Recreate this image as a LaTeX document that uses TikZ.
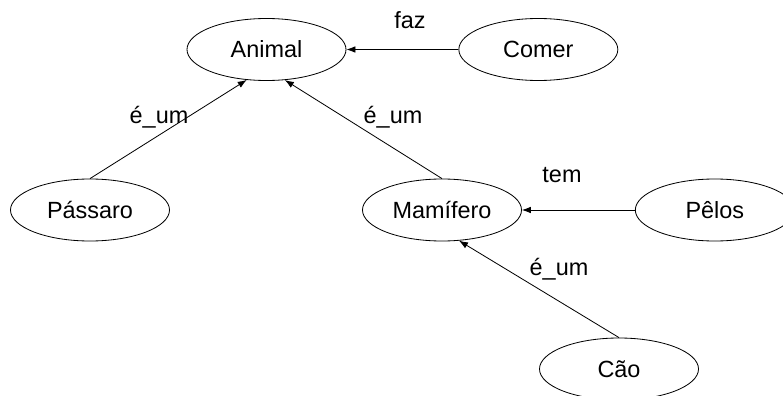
\documentclass[tikz,border=0pt]{standalone}
\usepackage{fontspec}
\setmainfont{Liberation Sans}
\usepackage{tikz}
\usetikzlibrary{arrows.meta, positioning, shapes.geometric}

\begin{document}
\begin{tikzpicture}[
  x=0.03cm, y=-0.03cm,
  concept/.style={draw, ellipse, line width=0.7pt, minimum width=4.77cm, minimum height=1.86cm, inner sep=0pt},
  rel/.style={inner sep=0pt},
  arrow/.style={-{Latex[length=2.7mm, width=2mm]}, line width=0.7pt},
  every node/.style={font=\fontsize{20}{24}\selectfont}
]
\useasboundingbox (0,0) rectangle (783,396);

% TOP ROW
\node[concept] (animal) at (266.5,49.5) {Animal};
\node[concept, right=3.36cm of animal] (comer) {Comer};

% MIDDLE ROW
\node[concept] (passaro) at (90,210) {Pássaro};
\node[concept] (mamifero) at (442,210) {Mamífero};
\node[concept, right=3.39cm of mamifero] (pelos) {Pêlos};

% BOTTOM
\node[concept] (cao) at (619,369) {Cão};

% LABELS
\node[rel] (faz) at (410,20) {faz};
\node[rel] (eum1) at (159,117) {é\_um};
\node[rel] (eum2) at (393,117) {é\_um};
\node[rel] (tem) at (562,175) {tem};
\node[rel] (eum3) at (559,269) {é\_um};

% Connections
\draw[arrow] (comer) -- (animal);
\draw[arrow] (passaro.north) -- (animal.237);
\draw[arrow] (mamifero.north) -- (animal.301);
\draw[arrow] (pelos) -- (mamifero);
\draw[arrow] (cao.north) -- (mamifero.299);

\end{tikzpicture}
\end{document}
